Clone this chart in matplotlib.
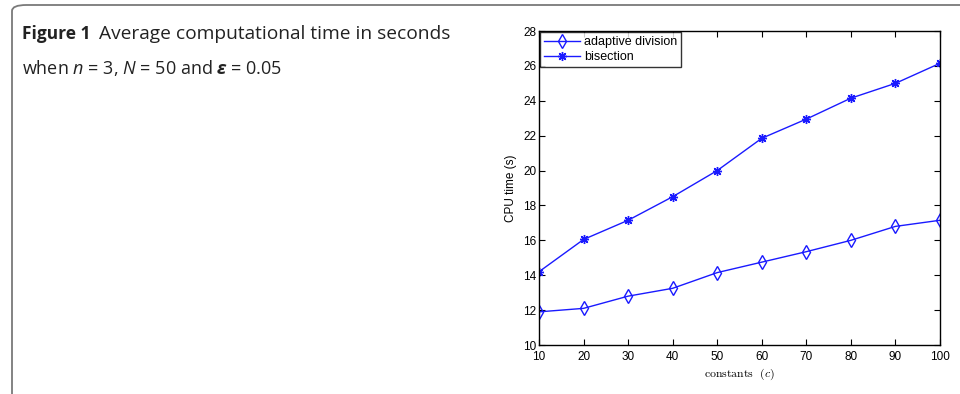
import matplotlib
matplotlib.use("Agg")
import matplotlib.pyplot as plt
from matplotlib.patches import FancyBboxPatch

# data
constants = [10, 20, 30, 40, 50, 60, 70, 80, 90, 100]
adaptive = [11.9, 12.1, 12.8, 13.25, 14.15, 14.75, 15.35, 16.0, 16.8, 17.15]
bisection = [14.2, 16.05, 17.15, 18.5, 20.0, 21.85, 22.95, 24.15, 25.0, 26.15]
yticks = [10, 12, 14, 16, 18, 20, 22, 24, 26, 28]

plt.rcParams['mathtext.fontset'] = 'custom'
plt.rcParams['mathtext.rm'] = 'Open Sans'
plt.rcParams['mathtext.it'] = 'Open Sans:italic'
plt.rcParams['mathtext.bf'] = 'Open Sans:bold:italic'

W, H = 960, 394
fig = plt.figure(figsize=(W / 100, H / 100), dpi=100)

# panel border with rounded corner (cut off at right and bottom)
border = FancyBboxPatch((12 / W, -20 / H), 1.2, (H - 5 + 20) / H,
                        boxstyle="round,pad=0,rounding_size=0.015",
                        transform=fig.transFigure, fill=False,
                        edgecolor='#7a7a7a', linewidth=1.3, clip_on=False)
fig.patches.append(border)

# caption
fig.text(22 / W, 1 - 34 / H, 'Figure 1', fontfamily='Open Sans', fontweight='bold',
         fontsize=12.5, va='center', color='#222222')
fig.text(99 / W, 1 - 34 / H, 'Average computational time in seconds', fontfamily='Open Sans',
         fontsize=13.8, va='center', color='#222222')
fig.text(22 / W, 1 - 68 / H, r'when $n$ = 3, $N$ = 50 and $\mathbf{\varepsilon}$ = 0.05',
         fontfamily='Open Sans', fontsize=13, va='center', color='#222222')

ax = fig.add_axes([539 / W, 1 - 345 / H, 401 / W, 314 / H])
blue = '#1a1aff'
ax.plot(constants, adaptive, color=blue, marker='d', markersize=7, markerfacecolor='none',
        markeredgecolor=blue, linewidth=1, label='adaptive division')
ax.plot(constants, bisection, color=blue, marker=(8, 2, 0), markersize=6.5, linewidth=1,
        markeredgewidth=1, label='bisection')

ax.set_xlim(10, 100)
ax.set_ylim(10, 28)
ax.set_xticks(constants)
ax.set_yticks(yticks)
ax.tick_params(direction='in', top=True, right=True, length=4, width=0.8,
               labelsize=8.5, pad=2)
ax.tick_params(axis='x', pad=4)
for lab in ax.get_xticklabels() + ax.get_yticklabels():
    lab.set_fontfamily('Liberation Sans')
for s in ax.spines.values():
    s.set_linewidth(1)

ax.set_xlabel(r'$\mathrm{constants}\ \ (c)$', math_fontfamily='cm', fontsize=8.5, labelpad=3)
ax.set_ylabel('CPU time (s)', fontfamily='Liberation Sans', fontsize=8.5, labelpad=4)

leg = ax.legend(loc='upper left', frameon=True, fancybox=False,
                borderaxespad=0.1, handlelength=2.9, handletextpad=0.3,
                borderpad=0.3, labelspacing=0.25,
                prop={'family': 'Liberation Sans', 'size': 9})
leg.get_frame().set_edgecolor('black')
leg.get_frame().set_linewidth(1)

fig.savefig('out.png', dpi=100)
